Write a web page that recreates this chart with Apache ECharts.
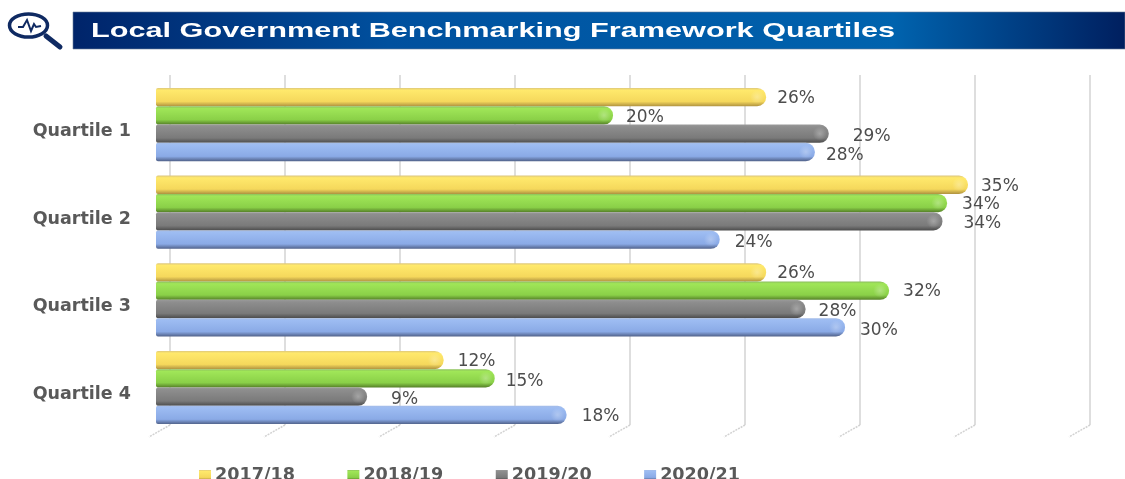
<!DOCTYPE html>
<html><head><meta charset="utf-8">
<style>html,body{margin:0;padding:0;background:#fff}#c{width:1125px;height:479px}</style>
<script src="https://cdn.jsdelivr.net/npm/echarts@6/dist/echarts.min.js"></script>
</head><body><div id="c"></div>
<script>
const titleText = 'Local Government Benchmarking Framework Quartiles';
const categories = ['Quartile 1','Quartile 2','Quartile 3','Quartile 4'];
const years = ['2017/18','2018/19','2019/20','2020/21'];
const values2017 = [26.3,35.0,26.3,12.4];
const values2018 = [19.7,34.1,31.6,14.6];
const values2019 = [29.0,33.9,28.0,9.1];
const values2020 = [28.4,24.3,29.7,17.7];
const gridTicks = [0,5,10,15,20,25,30,35,40];

const seriesValues = [values2017,values2018,values2019,values2020];
// The source places its data labels unevenly: gap after the bar end, and drop below centre.
const labelGaps = [[11,13,11,14],[13,15,14,11],[24,21,13,24],[11,15,15,15]];
const labelDrops = [[2,2,1,2],[2,2,1,3],[3,2,3,3],[4,3,3,2]];
const palette = [
  ['#dcc67c','#ffe96c','#f5d85c','#b09340'],
  ['#8cbe5e','#a0e658','#8ad048','#557f28'],
  ['#9a9a9a','#8e8e8e','#7a7a7a','#4c4c4c'],
  ['#a5bde8','#9dbcf2','#8aaae6','#51628a']
];
const grad = c => new echarts.graphic.LinearGradient(0,0,0,1,[
  {offset:0,color:c[0]},{offset:.12,color:c[1]},{offset:.74,color:c[2]},{offset:1,color:c[3]}]);
const BAR = 18.3;

const barSeries = years.map((y,i)=>({
  name:y,type:'bar',xAxisIndex:0,yAxisIndex:0,barWidth:BAR,barGap:0,z:5,
  itemStyle:{color:grad(palette[i]),borderRadius:[2,9,9,2]},
  label:{show:true,position:'right',color:'#4d4d4d',fontFamily:'DejaVu Sans',fontSize:17,
    formatter:p=>Math.round(p.value)+'%'},
  data:seriesValues[i].map((v,k)=>({value:v,label:{distance:labelGaps[i][k],offset:[0,labelDrops[i][k]]}}))
}));

const glowSeries = years.map((y,i)=>({
  type:'custom',xAxisIndex:0,yAxisIndex:0,z:6,silent:true,legendHoverLink:false,
  encode:{x:0,y:1},
  data:seriesValues[i].map((v,k)=>[v,k]),
  renderItem:(params,api)=>{
    const p = api.coord([api.value(0),api.value(1)]);
    const cy = p[1]+(i-1.5)*BAR, cx = p[0]-9;
    return {type:'circle',shape:{cx,cy,r:7},silent:true,style:{
      fill:new echarts.graphic.RadialGradient(.5,.5,.5,[
        {offset:0,color:'rgba(255,255,255,.28)'},{offset:1,color:'rgba(255,255,255,0)'}])}};
  }
}));

const floorSeries = {
  type:'custom',xAxisIndex:1,yAxisIndex:2,z:1,silent:true,encode:{x:0},
  data:gridTicks.map(v=>[v,0]),
  renderItem:(params,api)=>{
    const p = api.coord([api.value(0),0]);
    return {type:'line',shape:{x1:p[0],y1:p[1],x2:p[0]-21,y2:p[1]+12},silent:true,
      style:{stroke:'#d2d2d2',lineWidth:1.5,lineDash:[2,1]}};
  }
};

const titleFont = 'bold 21px "Liberation Sans"';
const mctx = document.createElement('canvas').getContext('2d');
mctx.font = titleFont;
const titleScale = 804 / mctx.measureText(titleText).width;

const chart = echarts.init(document.getElementById('c'));
chart.setOption({
  animation:false,
  backgroundColor:'#fff',
  legend:{data:years,icon:'rect',left:194,top:461,itemWidth:12,itemHeight:10,itemGap:52.5,
    textStyle:{color:'#595959',fontFamily:'DejaVu Sans',fontWeight:'bold',fontSize:17.6,padding:[0,0,0,-1]}},
  grid:[
    {left:156,top:80.7,width:928,height:350.6},
    {left:170,top:75,width:920,height:350}
  ],
  xAxis:[
    {gridIndex:0,type:'value',min:0,max:40,show:false},
    {gridIndex:1,type:'value',min:0,max:40,interval:5,axisLine:{show:false},axisTick:{show:false},axisLabel:{show:false},
     splitLine:{show:true,lineStyle:{color:'#dedede',width:2}},z:0}
  ],
  yAxis:[
    {gridIndex:0,type:'category',data:categories,inverse:true,axisLine:{show:false},axisTick:{show:false},
     axisLabel:{margin:25,color:'#595959',fontFamily:'DejaVu Sans',fontWeight:'bold',fontSize:17.5,verticalAlign:'top',lineHeight:14}},
    {gridIndex:1,type:'value',show:false,min:0,max:1},
    {gridIndex:1,type:'value',show:false,min:0,max:1}
  ],
  graphic:[
    {type:'rect',z:0,shape:{x:73,y:12,width:1052,height:37},style:{
      fill:new echarts.graphic.LinearGradient(0,0,1,0,[
        {offset:0,color:'#00246a'},{offset:.3,color:'#00509e'},{offset:.78,color:'#0063ae'},{offset:1,color:'#001f5f'}]),
      stroke:'#6d7f9c',lineWidth:.6}},
    {type:'text',z:3,x:91,y:31,scaleX:titleScale,originX:0,originY:0,style:{
      text:titleText,font:titleFont,fill:'#fff',verticalAlign:'middle',align:'left',
      shadowColor:'rgba(0,0,0,.6)',shadowBlur:3,shadowOffsetX:1,shadowOffsetY:1}},
    {type:'ellipse',z:1,shape:{cx:28.5,cy:25.5,rx:19,ry:11.5},style:{fill:'#fff',stroke:'#0f2a62',lineWidth:3.5}},
    {type:'polyline',z:2,shape:{points:[[18,27],[23,27],[27,20],[31,31],[34,24],[36,27],[41,26]]},style:{fill:'none',stroke:'#0f2a62',lineWidth:2}},
    {type:'line',z:2,shape:{x1:46,y1:36,x2:60,y2:47},style:{stroke:'#0f2a62',lineWidth:5,lineCap:'round'}}
  ],
  series:[...barSeries,...glowSeries,floorSeries]
});
</script></body></html>
